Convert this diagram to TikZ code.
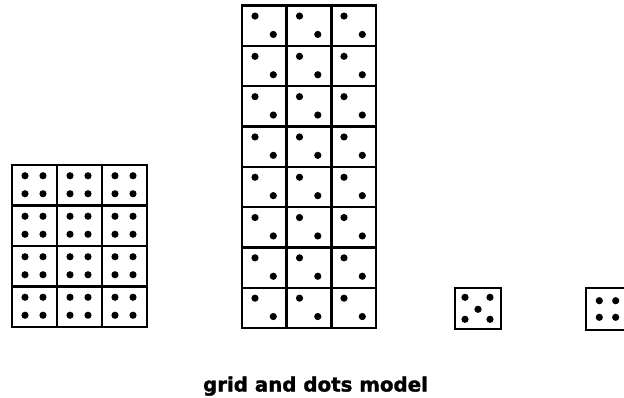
\documentclass[tikz,border=0pt]{standalone}
\usepackage{fontspec}
\newfontfamily\labelfont{DejaVu Sans}[BoldFeatures={FakeBold=1.5}]
\begin{document}
\begin{tikzpicture}[
    x=1pt,y=-1pt,
    cell/.style={draw,line width=2.2pt,inner sep=0pt,outer sep=0pt,minimum width=45pt,minimum height=40.5pt},
    bigcell/.style={cell,minimum width=46pt,minimum height=41pt},
    spot/.style={fill=black}
  ]
  \useasboundingbox (0,0) rectangle (624,398);

  % left grid: 4 rows x 3 columns, four dots each
  \foreach \r in {0,...,3}
    \foreach \c in {0,...,2} {
      \node[cell] (sq4-\r-\c) at (34.5+45*\c,185.25+40.5*\r) {};
      \foreach \dx/\dy in {-9/-9,9/-9,-9/9,9/9}
        \fill[spot] (sq4-\r-\c.center) ++(\dx-0.5,\dy-0.5) circle (3.6pt);
    }

  % middle grid: 8 rows x 3 columns, two dots each
  \foreach \r in {0,...,7}
    \foreach \c in {0,...,2} {
      \node[cell] (sq2-\r-\c) at (264.5+44.5*\c,25.85+40.3*\r) {};
      \fill[spot] (sq2-\r-\c.center) ++(-9.5,-9.8) circle (3.6pt);
      \fill[spot] (sq2-\r-\c.center) ++(8.8,8.6) circle (3.6pt);
    }

  % single squares
  \node[bigcell] (five) at (478,308.7) {};
  \foreach \dx/\dy in {-13/-11.4,12/-11.4,0/0.6,-13/10.6,12/10.6}
    \fill[spot] (five.center) ++(\dx,\dy) circle (3.6pt);

  \node[bigcell,minimum height=42pt] (four) at (608.7,309) {};
  \foreach \dx/\dy in {-9.4/-8.3,7/-8.3,-9.4/8.3,7/8.3}
    \fill[spot] (four.center) ++(\dx,\dy) circle (3.6pt);

  \node[anchor=base,inner sep=0pt,font=\labelfont\bfseries\fontsize{19.8}{22}\selectfont] (caption) at (315.5,391.5) {grid and dots model};
\end{tikzpicture}
\end{document}
